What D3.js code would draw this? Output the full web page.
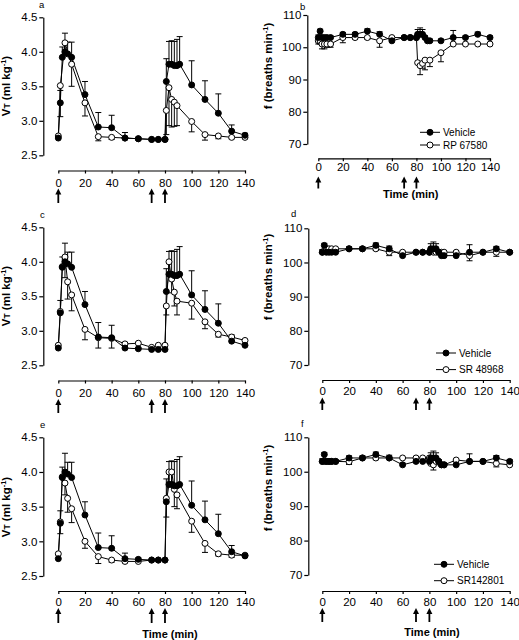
<!DOCTYPE html>
<html><head><meta charset="utf-8">
<script src="https://cdn.jsdelivr.net/npm/d3@7"></script>
<style>
html,body{margin:0;padding:0;background:#fff;}
svg{display:block;font-family:"Liberation Sans",Arial,sans-serif;}
</style></head>
<body><svg id="c" width="519" height="640"></svg>
<script>
// ---- data ----
const T = [0,1.5,3,5,7,10,20,30,40,50,60,70,75,80,81,83,85,87,89,91,100,110,120,130,140];
const xTicks = [0,20,40,60,80,100,120,140];
const arrowTimes = [0,70,80];
const vtTicks = [2.5,3.0,3.5,4.0,4.5];
const fTicks = [70,80,90,100,110];
const drugNames = ["RP 67580","SR 48968","SR142801"];
const panelLetters = ["a","b","c","d","e","f"];

// tidal volume (ml kg-1); errors signed (+ up, - down)
const vtVehicle    = [2.75,3.26,3.92,4.00,3.97,3.92,3.38,2.91,2.90,2.75,2.74,2.73,2.73,2.73,3.57,3.82,3.82,3.80,3.80,3.82,3.52,3.31,3.11,2.85,2.79];
const vtVehicleErr = [0,0.18,0.15,0.27,0.17,0.22,0.19,0.21,0.18,0.08,0.02,0,0,0,0.33,0.33,0.34,0.35,0.38,0.40,0.35,0.27,0.28,0.09,0.03];
const vtRP    = [2.78,3.51,null,4.13,null,3.82,3.26,2.77,2.76,2.75,2.74,2.73,2.73,2.73,3.15,3.48,3.31,3.27,3.22,null,2.99,2.80,2.78,2.76,2.76];
const vtRPErr = [0,-0.45,0,-0.15,0,-0.32,-0.19,-0.06,-0.03,0,0,0,0,0,-0.35,-0.55,-0.4,-0.35,-0.29,0,-0.15,-0.08,-0.04,-0.02,-0.02];
const vtSR48    = [2.79,3.28,3.93,4.07,3.71,3.52,3.02,2.90,2.89,2.81,2.82,2.76,2.79,2.79,3.36,4.00,3.75,3.56,3.43,null,3.40,3.13,2.95,2.91,2.86];
const vtSR48Err = [0,0,0,-0.3,-0.25,-0.23,-0.15,-0.15,-0.14,-0.03,0,0,0,0,-0.13,-0.2,-0.2,-0.2,-0.2,0,-0.23,-0.1,-0.04,0,0];
const vtSR14    = [2.82,3.28,3.93,3.84,3.62,3.47,3.00,2.78,2.73,2.71,2.71,2.73,2.73,2.73,3.62,4.00,4.00,3.75,3.67,null,3.29,2.97,2.82,2.80,2.80];
const vtSR14Err = [0,-0.17,0,-0.17,-0.2,-0.2,-0.1,-0.1,-0.03,-0.02,0,0,0,0,-0.27,-0.15,-0.15,-0.25,-0.2,0,-0.16,-0.13,-0.03,-0.03,0];

// breathing frequency (breaths min-1)
const fVehicle    = [103,105,103,103,103,103,104,104,105,104,102,103,103,103,104,104,104,103,102,102,102,103,103,104,103];
const fVehicleErr = [0.8,0.6,0.5,0.5,0.5,0.5,0.6,0.6,0.7,0.8,0.5,0.4,0.4,0.4,1.5,2,1.5,0.5,0.5,0.5,0.5,2.2,0.5,0.7,0.5];
const fRP    = [102,102,101,101,101,101,103,103,103,102,103,103,103,103,95.2,94.3,95,96,null,96,98.3,101,101,101,101];
const fRPErr = [-1,-1,-1.5,-1.5,-1,-1,-1.6,-0.5,-0.5,-2,0,0,0,0,0,-2.8,-1.5,-3,0,-2,-2.8,0,0,0,0];
const fSR48    = [103,103.5,104,104,104,104,104,104,104,103,103,103,103,103,103.5,103,103,103,103,103,103,102,103,103,103];
const fSR48Err = [0,0,0,-0.5,-0.5,0,-0.5,0,-0.5,-1,0,0,0,0,0,0,0,0,0,0,0,-1.5,0,-1.2,0];
const fSR14    = [103,103,103,103,103,103,102.9,104,104,104,104,104,104,104,102.4,102,103,103,102,102,103.4,103,103,102.4,102];
const fSR14Err = [0,0,0,0,0,0,-0.8,0,-0.5,0,0,0,0,0,0,-1.5,-1,0,0,0,0,0,0,-1,0];

// ---- drawing ----
const svg = d3.select("#c");
const FONT = '"Liberation Sans",Arial,sans-serif';

function drawPanel(L, kind, veh, vehErr, drug, drugErr, letter, legendName, showTime) {
  const g = svg.append("g");
  const x = d3.scaleLinear().domain([0,140]).range([L.x0, L.x1]);
  const yDom = kind === "vt" ? [2.5,4.5] : [70,110];
  const y = d3.scaleLinear().domain(yDom).range([L.yBot, L.yTop]);

  const ya = g.append("g").attr("transform", `translate(${L.ax},0)`)
    .call(d3.axisLeft(y).tickValues(kind === "vt" ? vtTicks : fTicks)
      .tickFormat(kind === "vt" ? d3.format(".1f") : d3.format("d"))
      .tickSize(4).tickSizeOuter(0).tickPadding(2));
  const xa = g.append("g").attr("transform", `translate(0,${L.xy})`)
    .call(d3.axisBottom(x).tickValues(xTicks).tickSize(3).tickSizeOuter(0).tickPadding(L.xpad));
  [ya, xa].forEach(a => {
    a.select(".domain").attr("stroke", "#000").attr("stroke-width", 1.2);
    a.selectAll(".tick line").attr("stroke", "#000").attr("stroke-width", 1.2);
    a.selectAll("text").attr("fill", "#000").style("font-size", "11.5px").style("font-family", FONT);
  });

  // y title
  const tt = g.append("text")
    .attr("transform", `translate(${L.tx},${L.ty}) rotate(-90)`)
    .attr("text-anchor", "middle")
    .style("font-family", FONT).style("font-weight", "bold").style("font-size", "11.5px");
  if (kind === "vt") {
    tt.append("tspan").text("V");
    tt.append("tspan").text("T").style("font-size", "8.5px");
    tt.append("tspan").text(" (ml kg");
  } else {
    tt.append("tspan").text("f (breaths min");
  }
  tt.append("tspan").text("-1").style("font-size", "7.5px").attr("dy", "-4");
  tt.append("tspan").text(")").attr("dy", "4");

  // panel letter
  g.append("text").attr("x", L.lx).attr("y", L.ly).text(letter)
    .style("font-family", FONT).style("font-size", "9.5px");

  // arrows
  arrowTimes.forEach(t => {
    const ax = x(t);
    g.append("line").attr("x1", ax).attr("x2", ax).attr("y1", L.arTop + 4).attr("y2", L.arBot)
      .attr("stroke", "#000").attr("stroke-width", 1.8);
    g.append("path").attr("d", `M${ax},${L.arTop} L${ax-3},${L.arTop+6} L${ax+3},${L.arTop+6} Z`).attr("fill", "#000");
  });

  function series(vals, errs) {
    const pts = T.map((t, i) => ({t, v: vals[i], e: errs[i]})).filter(d => d.v !== null);
    const eb = pts.filter(d => Math.abs(d.e) > 0.001);
    g.selectAll(null).data(eb).enter().append("line")
      .attr("x1", d => x(d.t)).attr("x2", d => x(d.t))
      .attr("y1", d => y(d.v)).attr("y2", d => y(d.v + d.e))
      .attr("stroke", "#000").attr("stroke-width", 1);
    g.selectAll(null).data(eb).enter().append("line")
      .attr("x1", d => x(d.t) - 3).attr("x2", d => x(d.t) + 3)
      .attr("y1", d => y(d.v + d.e)).attr("y2", d => y(d.v + d.e))
      .attr("stroke", "#000").attr("stroke-width", 1);
    return pts;
  }
  const dp = series(drug, drugErr);
  const vp = series(veh, vehErr);
  const line = d3.line().x(d => x(d.t)).y(d => y(d.v));
  g.append("path").datum(dp).attr("d", line).attr("fill", "none").attr("stroke", "#000").attr("stroke-width", 1);
  g.append("path").datum(vp).attr("d", line).attr("fill", "none").attr("stroke", "#000").attr("stroke-width", 1);
  g.selectAll(null).data(dp).enter().append("circle")
    .attr("cx", d => x(d.t)).attr("cy", d => y(d.v)).attr("r", 3)
    .attr("fill", "#fff").attr("stroke", "#000").attr("stroke-width", 1);
  g.selectAll(null).data(vp).enter().append("circle")
    .attr("cx", d => x(d.t)).attr("cy", d => y(d.v)).attr("r", 3)
    .attr("fill", "#000").attr("stroke", "#000").attr("stroke-width", 1);

  if (legendName) {
    const rows = [["Vehicle", true], [legendName, false]];
    rows.forEach((r, i) => {
      const yy = L.legY + i * L.legDy;
      g.append("line").attr("x1", L.legX).attr("x2", L.legX + 20).attr("y1", yy).attr("y2", yy)
        .attr("stroke", "#000").attr("stroke-width", 1);
      g.append("circle").attr("cx", L.legX + 10).attr("cy", yy).attr("r", 3)
        .attr("fill", r[1] ? "#000" : "#fff").attr("stroke", "#000");
      g.append("text").attr("x", L.legX + 23).attr("y", yy).attr("dy", "0.35em").text(r[0])
        .style("font-family", FONT).style("font-size", "10px");
    });
  }
  if (showTime) {
    g.append("text").attr("x", L.timeX).attr("y", L.timeY).attr("text-anchor", "middle")
      .attr("dy", "0.35em").text("Time (min)")
      .style("font-family", FONT).style("font-weight", "bold").style("font-size", "11px");
  }
}

const layouts = [
  {ax:43.3, yTop:17.3, yBot:155.3, xy:170.5, x0:58.3, x1:245, xpad:5, tx:10, ty:86, lx:39, ly:8, arTop:188.5, arBot:203},
  {ax:307.3, yTop:15, yBot:144, xy:158.3, x0:318.3, x1:490, xpad:2, tx:272, ty:66, lx:300, ly:10, arTop:176.5, arBot:188.5, legX:420, legY:132.3, legDy:12.7, timeX:410.7, timeY:194},
  {ax:43.3, yTop:227.3, yBot:365.3, xy:380.5, x0:58.3, x1:245, xpad:5, tx:10, ty:296, lx:40, ly:218, arTop:399, arBot:413},
  {ax:308.3, yTop:228.3, yBot:365, xy:380, x0:322.3, x1:509.7, xpad:4, tx:272, ty:277, lx:291, ly:217, arTop:397.5, arBot:410, legX:436, legY:353, legDy:16.6},
  {ax:43.3, yTop:437.3, yBot:576, xy:591, x0:58.3, x1:245, xpad:3.7, tx:10, ty:507, lx:40, ly:428, arTop:608, arBot:623, timeX:170, timeY:634},
  {ax:308.3, yTop:437.3, yBot:575, xy:591, x0:322.3, x1:509.7, xpad:3.7, tx:272, ty:488, lx:301, ly:427, arTop:608, arBot:622, legX:434, legY:564.3, legDy:16.4, timeX:432, timeY:632}
];

drawPanel(layouts[0], "vt", vtVehicle, vtVehicleErr, vtRP, vtRPErr, panelLetters[0], null, false);
drawPanel(layouts[1], "f", fVehicle, fVehicleErr, fRP, fRPErr, panelLetters[1], drugNames[0], true);
drawPanel(layouts[2], "vt", vtVehicle, vtVehicleErr, vtSR48, vtSR48Err, panelLetters[2], null, false);
drawPanel(layouts[3], "f", fVehicle, fVehicleErr, fSR48, fSR48Err, panelLetters[3], drugNames[1], false);
drawPanel(layouts[4], "vt", vtVehicle, vtVehicleErr, vtSR14, vtSR14Err, panelLetters[4], null, true);
drawPanel(layouts[5], "f", fVehicle, fVehicleErr, fSR14, fSR14Err, panelLetters[5], drugNames[2], true);
</script></body></html>
